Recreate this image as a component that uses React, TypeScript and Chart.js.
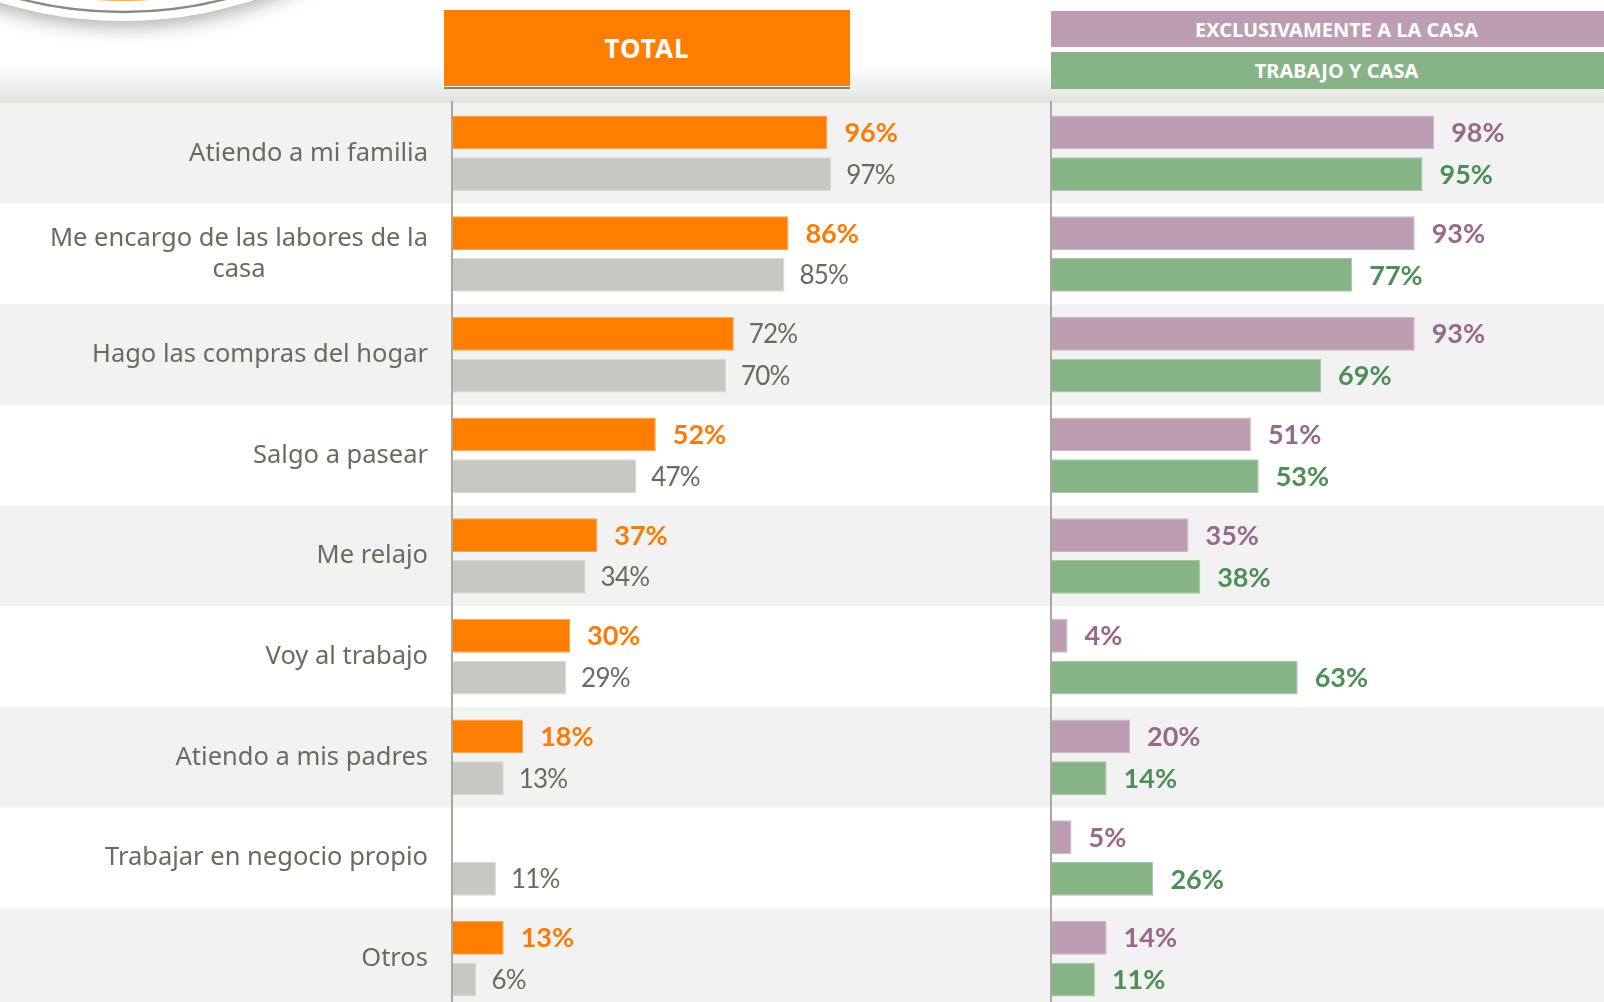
import React, { useEffect, useRef } from 'react';
import { Chart, registerables } from 'chart.js';

Chart.register(...registerables);

// ---------- data ----------
const categories: string[][] = [
  ['Atiendo a mi familia'],
  ['Me encargo de las labores de la', 'casa'],
  ['Hago las compras del hogar'],
  ['Salgo a pasear'],
  ['Me relajo'],
  ['Voy al trabajo'],
  ['Atiendo a mis padres'],
  ['Trabajar en negocio propio'],
  ['Otros'],
];

const totalActual: (number | null)[] = [96, 86, 72, 52, 37, 30, 18, null, 13];
const totalAnterior: number[] = [97, 85, 70, 47, 34, 29, 13, 11, 6];
const exclusivamenteCasa: number[] = [98, 93, 93, 51, 35, 4, 20, 5, 14];
const trabajoYCasa: number[] = [95, 77, 69, 53, 38, 63, 14, 26, 11];
// which "total" values are highlighted (bold orange) in the picture
const totalActualDestacado: boolean[] = [true, true, false, true, true, true, true, false, true];

const headerTotal = 'TOTAL';
const headerCasa = 'EXCLUSIVAMENTE A LA CASA';
const headerTrabajo = 'TRABAJO Y CASA';

// ---------- styles ----------
const ORANGE = '#FD7E00';
const GREY_BAR = '#C8C7C1';
const PURPLE = '#BC9DB2';
const GREEN = '#86B486';
const TEXT_GREY = '#6A6A5E';
const LABEL_ORANGE = '#F97B08';
const LABEL_PURPLE = '#986988';
const LABEL_GREEN = '#4E8E57';
const FONT = '"Noto Sans", "DejaVu Sans", sans-serif';
const NUM_FONT = 'Lato, "Noto Sans", sans-serif';

type LabelStyle = { color: string; bold: (i: number) => boolean };

function backgroundPlugin(withLogo: boolean) {
  return {
    id: 'bgRows',
    beforeDraw(chart: any) {
      const { ctx, width, height, chartArea, scales } = chart;
      const y = scales.y;
      ctx.save();
      ctx.fillStyle = '#ffffff';
      ctx.fillRect(0, 0, width, height);
      const g = ctx.createLinearGradient(0, 64, 0, chartArea.top);
      g.addColorStop(0, 'rgba(226,226,221,0)');
      g.addColorStop(1, '#e2e2dd');
      ctx.fillStyle = g;
      ctx.fillRect(0, 64, width, chartArea.top - 64);
      const n = chart.data.labels.length;
      const rowH = (chartArea.bottom - chartArea.top) / n;
      for (let i = 0; i < n; i++) {
        const cy = y.getPixelForValue(i);
        ctx.fillStyle = i % 2 === 0 ? '#f2f2f2' : '#ffffff';
        ctx.fillRect(0, cy - rowH / 2, width, rowH);
      }
      if (withLogo) {
        const cx = 123;
        const cyl = -400;
        ctx.save();
        ctx.shadowColor = 'rgba(0,0,0,0.30)';
        ctx.shadowBlur = 18;
        ctx.shadowOffsetY = 6;
        ctx.fillStyle = '#ffffff';
        ctx.beginPath();
        ctx.arc(cx, cyl, 421, 0, Math.PI * 2);
        ctx.fill();
        ctx.restore();
        ctx.strokeStyle = '#8a8a80';
        ctx.lineWidth = 2.4;
        ctx.beginPath();
        ctx.arc(cx, cyl, 412, 0, Math.PI * 2);
        ctx.stroke();
        ctx.fillStyle = '#F7A94A';
        ctx.beginPath();
        ctx.arc(cx, cyl, 401, 0, Math.PI * 2);
        ctx.fill();
      }
      ctx.restore();
    },
  };
}

function overlayPlugin(styles: LabelStyle[], drawCategories: boolean, labelRight: number) {
  return {
    id: 'overlay',
    afterDatasetsDraw(chart: any) {
      const { ctx, chartArea, scales } = chart;
      const x0 = scales.x.getPixelForValue(0);
      ctx.save();
      // axis line
      ctx.strokeStyle = '#A8A89E';
      ctx.lineWidth = 2;
      ctx.beginPath();
      ctx.moveTo(x0 - 1, chartArea.top - 2);
      ctx.lineTo(x0 - 1, chartArea.bottom);
      ctx.stroke();
      // value labels
      chart.data.datasets.forEach((ds: any, di: number) => {
        const meta = chart.getDatasetMeta(di);
        const st = styles[di];
        meta.data.forEach((bar: any, i: number) => {
          const v = ds.data[i];
          if (v === null || v === undefined) return;
          const bold = st.bold(i);
          ctx.font = bold ? `bold 27px ${NUM_FONT}` : `26px ${NUM_FONT}`;
          (ctx as any).letterSpacing = bold ? '0px' : '-0.8px';
          ctx.fillStyle = bold ? st.color : TEXT_GREY;
          ctx.textAlign = 'left';
          ctx.textBaseline = 'middle';
          ctx.fillText(`${v}%`, bar.x + (bold ? 17 : 15), bar.y + 1);
        });
      });
      (ctx as any).letterSpacing = '0px';
      // category labels
      if (drawCategories) {
        ctx.font = `25.5px ${FONT}`;
        ctx.fillStyle = TEXT_GREY;
        ctx.textAlign = 'center';
        ctx.textBaseline = 'middle';
        (chart.data.labels as string[][]).forEach((lines, i) => {
          const cy = scales.y.getPixelForValue(i);
          const w = Math.max(...lines.map((l) => ctx.measureText(l).width));
          const cx = labelRight - w / 2;
          lines.forEach((l, k) => {
            ctx.fillText(l, cx, cy + (k - (lines.length - 1) / 2) * 31);
          });
        });
      }
      ctx.restore();
    },
  };
}

function makeConfig(datasets: any[], padding: any, plugins: any[]) {
  return {
    type: 'bar' as const,
    data: { labels: categories, datasets },
    options: {
      indexAxis: 'y' as const,
      animation: false as const,
      responsive: false,
      maintainAspectRatio: false,
      devicePixelRatio: 1,
      layout: { padding },
      datasets: { bar: { categoryPercentage: 0.83, barPercentage: 0.81 } },
      scales: {
        x: { display: false, min: 0, max: 100 },
        y: { display: false, offset: true },
      },
      plugins: { legend: { display: false }, tooltip: { enabled: false } },
    },
    plugins,
  };
}

const CANVAS_H = 1009;
const LEFT_W = 1040;
const RIGHT_W = 564;

export default function App() {
  const leftRef = useRef<HTMLCanvasElement>(null);
  const rightRef = useRef<HTMLCanvasElement>(null);

  useEffect(() => {
    const left = new Chart(
      leftRef.current as HTMLCanvasElement,
      makeConfig(
        [
          { label: 'Total', data: totalActual, backgroundColor: ORANGE, borderColor: '#FFA24D', borderWidth: 1 },
          { label: 'Total (anterior)', data: totalAnterior, backgroundColor: GREY_BAR, borderColor: '#D9D8D3', borderWidth: 1 },
        ],
        { left: 453, right: LEFT_W - 453 - 390, top: 103, bottom: 0 },
        [
          backgroundPlugin(true),
          overlayPlugin(
            [
              { color: LABEL_ORANGE, bold: (i) => totalActualDestacado[i] },
              { color: TEXT_GREY, bold: () => false },
            ],
            true,
            428
          ),
        ]
      ) as any
    );
    const right = new Chart(
      rightRef.current as HTMLCanvasElement,
      makeConfig(
        [
          { label: 'Exclusivamente a la casa', data: exclusivamenteCasa, backgroundColor: PURPLE, borderColor: '#CDB6C6', borderWidth: 1 },
          { label: 'Trabajo y casa', data: trabajoYCasa, backgroundColor: GREEN, borderColor: '#A3C8A3', borderWidth: 1 },
        ],
        { left: 12, right: RIGHT_W - 12 - 390, top: 103, bottom: 0 },
        [
          backgroundPlugin(false),
          overlayPlugin(
            [
              { color: LABEL_PURPLE, bold: () => true },
              { color: LABEL_GREEN, bold: () => true },
            ],
            false,
            0
          ),
        ]
      ) as any
    );
    return () => {
      left.destroy();
      right.destroy();
    };
  }, []);

  const headerBase: React.CSSProperties = {
    position: 'absolute',
    color: '#ffffff',
    fontFamily: FONT,
    fontWeight: 700,
    display: 'flex',
    alignItems: 'center',
    justifyContent: 'center',
    whiteSpace: 'nowrap',
  };

  return (
    <div
      style={{
        position: 'absolute',
        left: 0,
        top: 0,
        width: 1604,
        height: 1002,
        overflow: 'hidden',
        background: '#ffffff',
      }}
    >
      <canvas
        ref={leftRef}
        width={LEFT_W}
        height={CANVAS_H}
        style={{ position: 'absolute', left: 0, top: 0, width: LEFT_W, height: CANVAS_H }}
      />
      <canvas
        ref={rightRef}
        width={RIGHT_W}
        height={CANVAS_H}
        style={{ position: 'absolute', left: LEFT_W, top: 0, width: RIGHT_W, height: CANVAS_H }}
      />
      <div style={{ ...headerBase, left: 444, top: 10, width: 406, height: 76, background: ORANGE, fontSize: 26, letterSpacing: 1 }}>
        {headerTotal}
      </div>
      <div style={{ position: 'absolute', left: 444, top: 87, width: 406, height: 2, background: '#84847A' }} />
      <div style={{ ...headerBase, left: 1051, top: 11, width: 571, height: 36, background: PURPLE, fontSize: 20 }}>
        {headerCasa}
      </div>
      <div style={{ ...headerBase, left: 1051, top: 52, width: 571, height: 37, background: GREEN, fontSize: 20 }}>
        {headerTrabajo}
      </div>
    </div>
  );
}
